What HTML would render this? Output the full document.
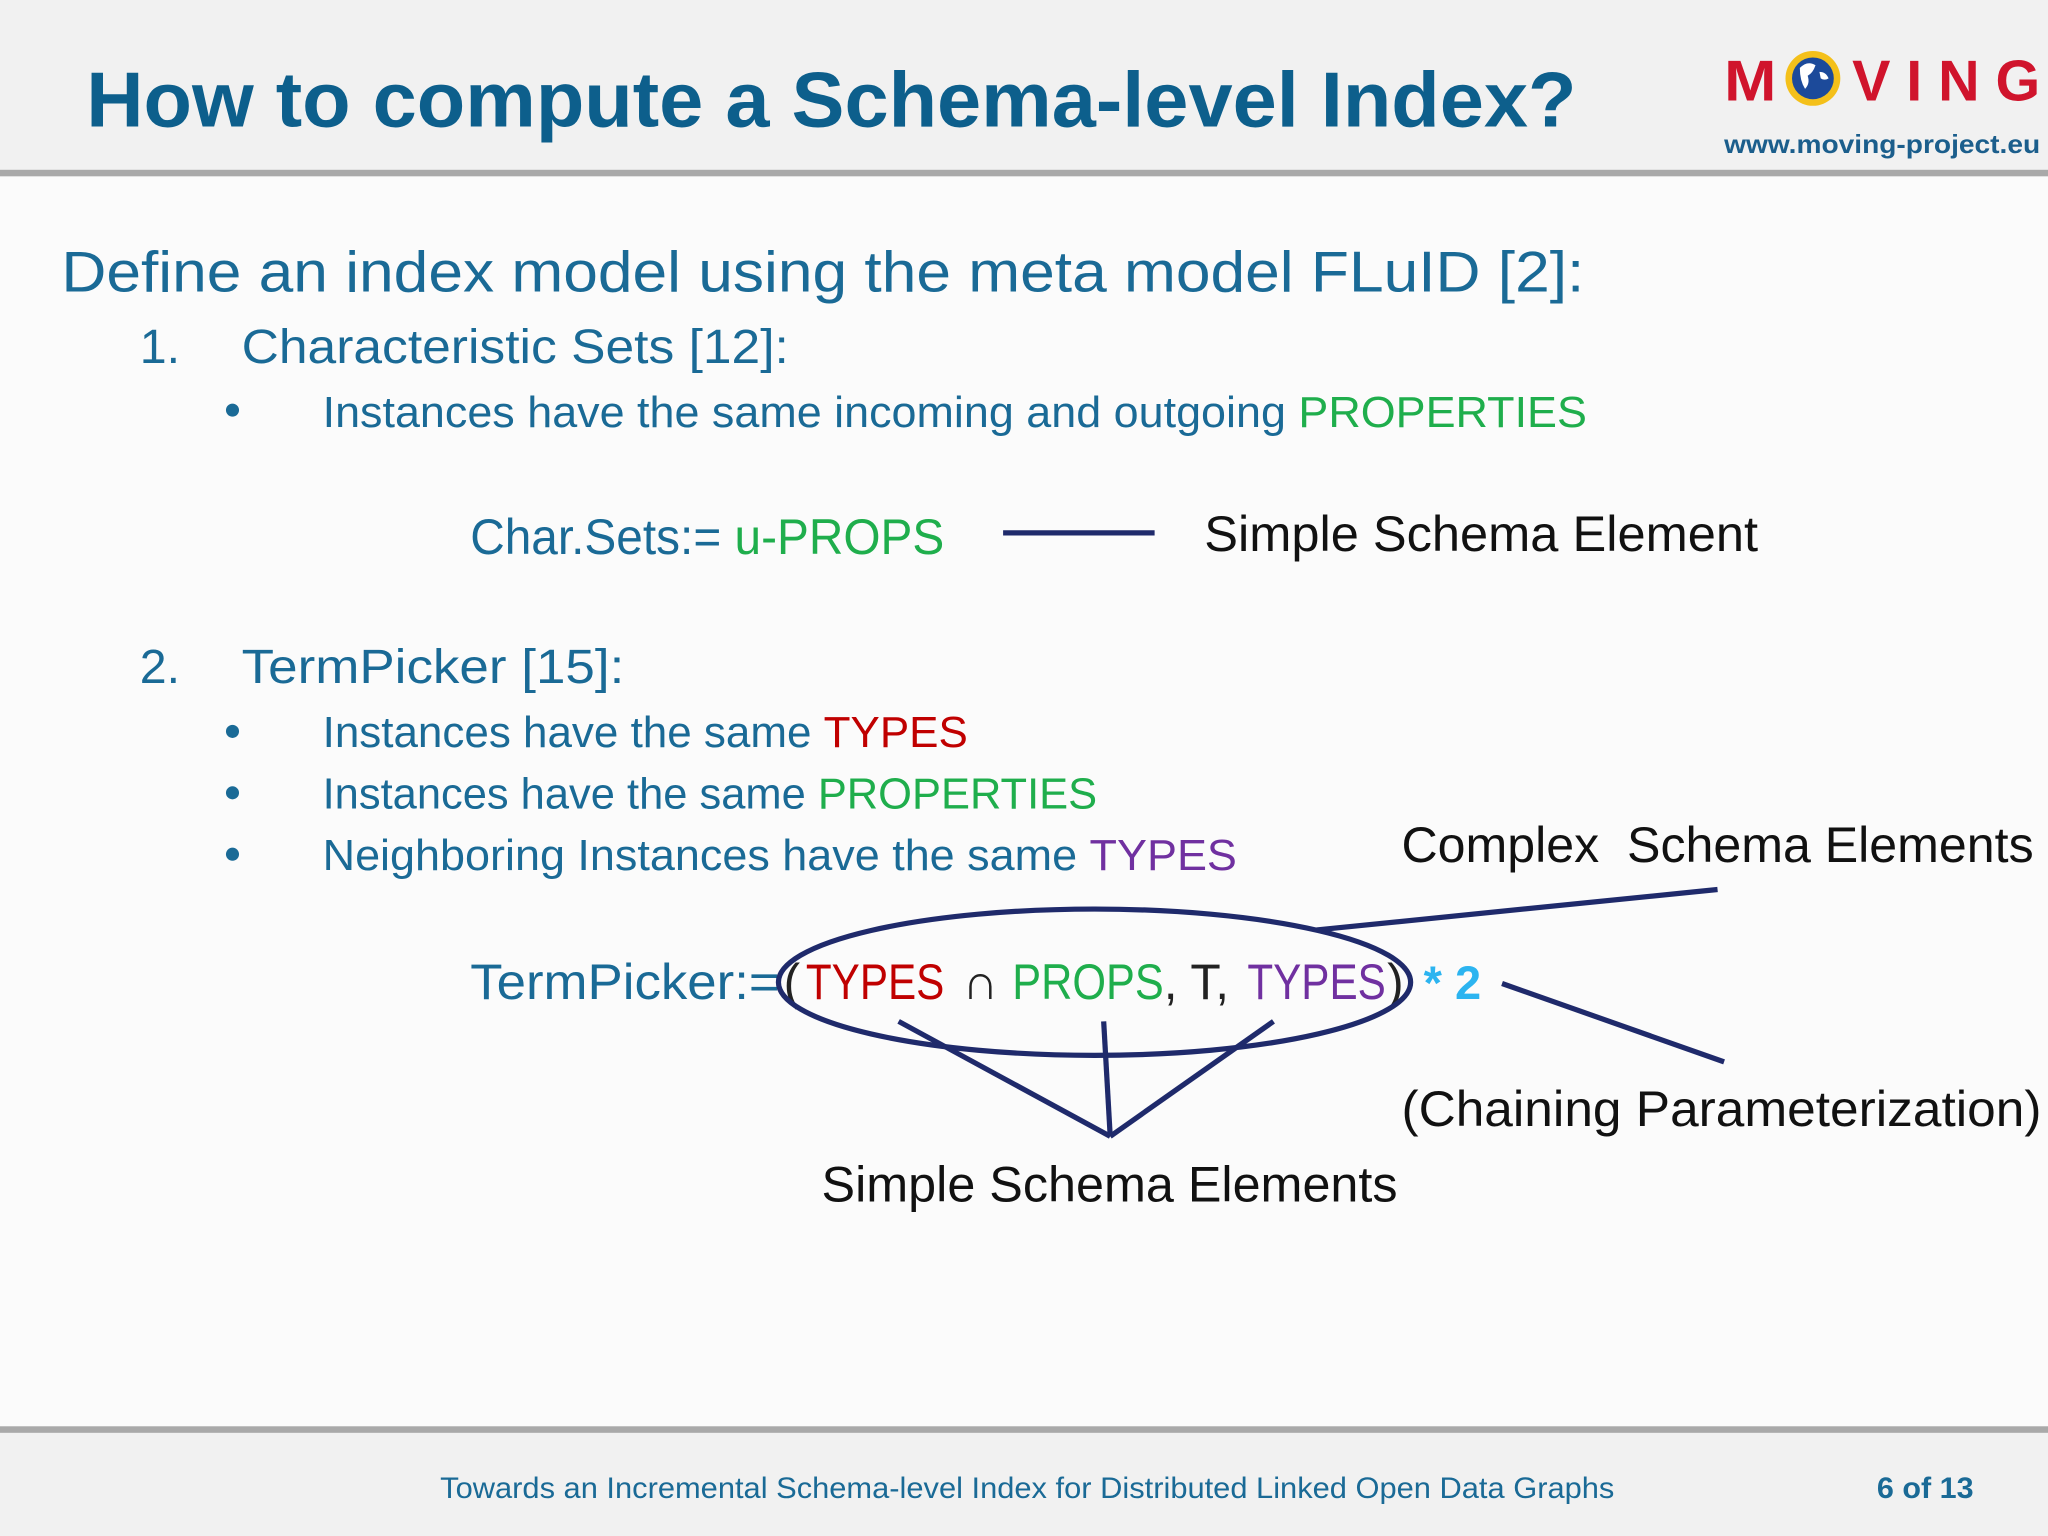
<!DOCTYPE html>
<html><head><meta charset="utf-8"><style>html,body{margin:0;padding:0;background:#fafafa}svg{display:block}</style></head>
<body>
<svg width="2048" height="1536" viewBox="0 0 1568 1176" xmlns="http://www.w3.org/2000/svg" font-family="Liberation Sans, sans-serif">
<rect width="1568" height="1176" fill="#fbfbfb"/>
<g>
<rect width="1568" height="131" fill="#f1f1f1"/>
<rect y="130" width="1568" height="5" fill="#a9a9a9"/>
<text x="66" y="97" font-size="60" font-weight="bold" fill="#0d5f8c" textLength="1141" lengthAdjust="spacingAndGlyphs">How to compute a Schema-level Index?</text>
<g>
<text x="1320" y="77" font-size="44" font-weight="bold" fill="#d0142c" textLength="40" lengthAdjust="spacingAndGlyphs">M</text>
<circle cx="1388" cy="60" r="21" fill="#f4c01a"/>
<circle cx="1388" cy="60" r="16" fill="#1c4a9a"/>
<path d="M1378 52 q6 -6 12 -2 q-2 6 -6 8 q2 6 -2 10 q-4 -6 -4 -16z M1393 55 q5 0 7 5 q-3 2 -6 0z" fill="#fff"/>
<text x="1418" y="77" font-size="44" font-weight="bold" fill="#d0142c" textLength="144" lengthAdjust="spacing">VING</text>
<text x="1320" y="117" font-size="20" font-weight="bold" fill="#1b5e8c" textLength="242" lengthAdjust="spacingAndGlyphs">www.moving-project.eu</text>
</g>
</g>
<g fill="#1a6a96">
<text x="47" y="223" font-size="44" textLength="1166" lengthAdjust="spacingAndGlyphs">Define an index model using the meta model FLuID [2]:</text>
<text x="107" y="278" font-size="37">1.</text>
<text x="185" y="278" font-size="37" textLength="419" lengthAdjust="spacingAndGlyphs">Characteristic Sets [12]:</text>
<circle cx="178" cy="314" r="5"/>
<text x="247" y="327" font-size="33" textLength="968" lengthAdjust="spacingAndGlyphs">Instances have the same incoming and outgoing <tspan fill="#1fae4c">PROPERTIES</tspan></text>
<text x="360" y="424" font-size="38" textLength="363" lengthAdjust="spacingAndGlyphs">Char.Sets:= <tspan fill="#1fae4c">u-PROPS</tspan></text>
<text x="107" y="523" font-size="37">2.</text>
<text x="185" y="523" font-size="37" textLength="293" lengthAdjust="spacingAndGlyphs">TermPicker [15]:</text>
<circle cx="178" cy="560" r="5"/><circle cx="178" cy="607" r="5"/><circle cx="178" cy="654" r="5"/>
<text x="247" y="572" font-size="33" textLength="494" lengthAdjust="spacingAndGlyphs">Instances have the same <tspan fill="#c00000">TYPES</tspan></text>
<text x="247" y="619" font-size="33" textLength="593" lengthAdjust="spacingAndGlyphs">Instances have the same <tspan fill="#1fae4c">PROPERTIES</tspan></text>
<text x="247" y="666" font-size="33" textLength="700" lengthAdjust="spacingAndGlyphs">Neighboring Instances have the same <tspan fill="#7030a0">TYPES</tspan></text>
<g font-size="38">
<text x="360" y="765" textLength="237" lengthAdjust="spacingAndGlyphs">TermPicker:=</text>
<text x="600" y="765" fill="#222">(</text>
<text x="617" y="765" fill="#c00000" textLength="106" lengthAdjust="spacingAndGlyphs">TYPES</text>
<text x="737" y="765" fill="#222">∩</text>
<text x="775" y="765" fill="#1fae4c" textLength="116" lengthAdjust="spacingAndGlyphs">PROPS</text>
<text x="891" y="765" fill="#222">, T,</text>
<text x="955" y="765" fill="#7030a0" textLength="106" lengthAdjust="spacingAndGlyphs">TYPES</text>
<text x="1062" y="765" fill="#222">)</text>
</g>
<text x="1090" y="765" font-size="36" font-weight="bold" fill="#2cb4f0">* 2</text>
</g>
<g fill="#111" font-size="38">
<line x1="768" y1="408" x2="884" y2="408" stroke="#1f2a6b" stroke-width="4"/>
<text x="922" y="422" textLength="424" lengthAdjust="spacingAndGlyphs">Simple Schema Element</text>
<text x="1073" y="660" textLength="484" lengthAdjust="spacingAndGlyphs" xml:space="preserve">Complex  Schema Elements</text>
<ellipse cx="838" cy="752" rx="242" ry="56" fill="none" stroke="#1f2a6b" stroke-width="4"/>
<g stroke="#1f2a6b" stroke-width="4">
<line x1="1008" y1="712" x2="1315" y2="681"/>
<line x1="1150" y1="753" x2="1320" y2="813"/>
<line x1="688" y1="782" x2="850" y2="870"/>
<line x1="845" y1="782" x2="850" y2="870"/>
<line x1="975" y1="782" x2="850" y2="870"/>
</g>
<text x="1073" y="862" textLength="490" lengthAdjust="spacingAndGlyphs">(Chaining Parameterization)</text>
<text x="629" y="920" textLength="441" lengthAdjust="spacingAndGlyphs">Simple Schema Elements</text>
</g>
<g>
<rect y="1096" width="1568" height="80" fill="#f1f1f1"/>
<rect y="1092" width="1568" height="5" fill="#a9a9a9"/>
<text x="337" y="1147" font-size="23" fill="#1a6a96" textLength="899" lengthAdjust="spacingAndGlyphs">Towards an Incremental Schema-level Index for Distributed Linked Open Data Graphs</text>
<text x="1437" y="1147" font-size="23" font-weight="bold" fill="#1a6a96" textLength="74" lengthAdjust="spacingAndGlyphs">6 of 13</text>
</g>
</svg>
</body></html>
